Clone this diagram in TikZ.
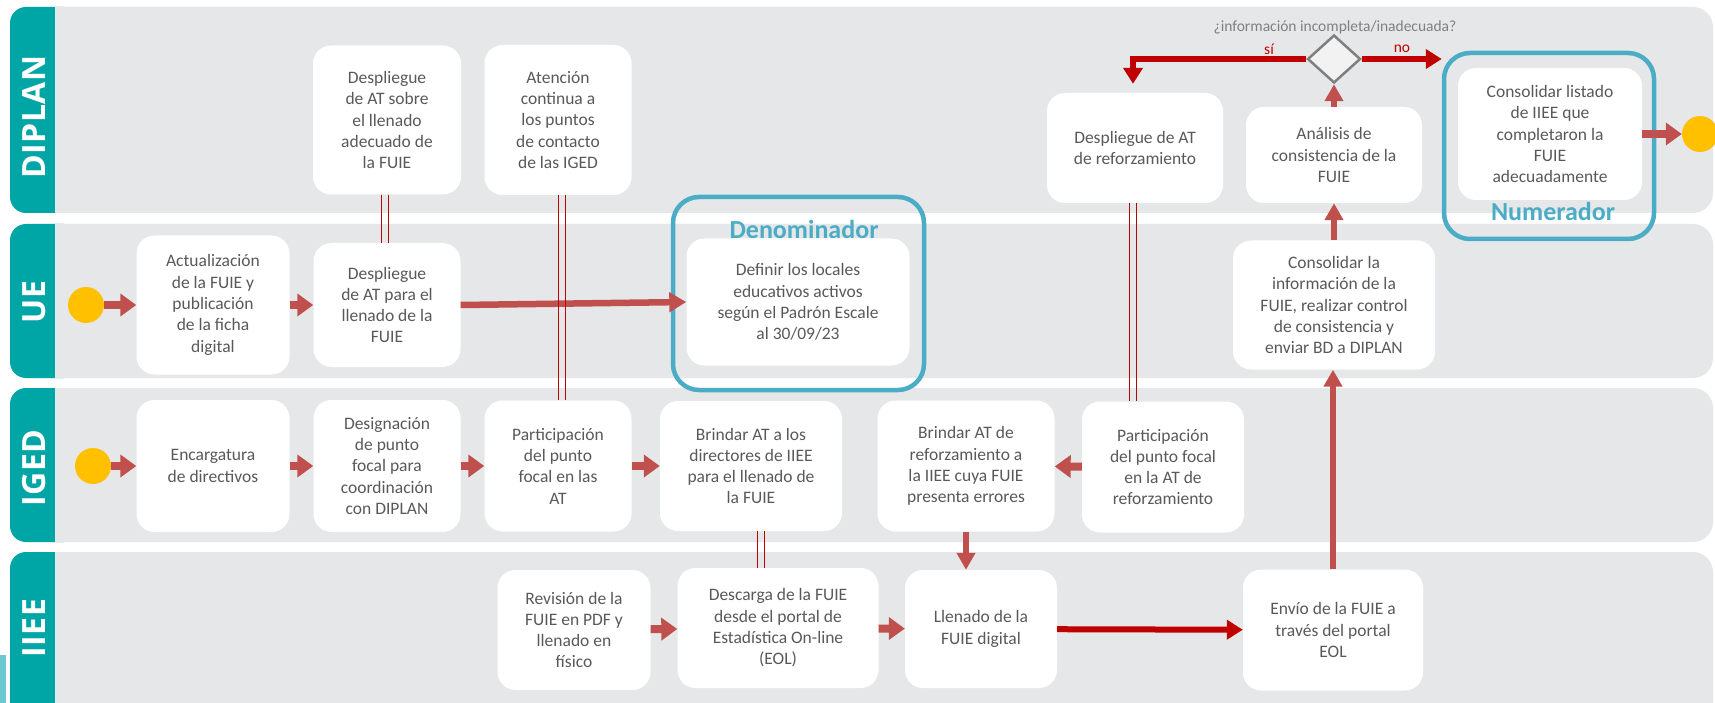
\documentclass[tikz,border=0pt]{standalone}
\usepackage{fontspec}
\setmainfont{Carlito}
\newfontfamily\osans{Open Sans}
\usetikzlibrary{arrows.meta,shapes.geometric,calc}
\definecolor{laneg}{RGB}{230,231,232}
\definecolor{tealc}{RGB}{0,166,166}
\definecolor{txtg}{RGB}{89,89,89}
\definecolor{arrL}{RGB}{192,80,77}
\definecolor{arrD}{RGB}{192,0,0}
\definecolor{blueo}{RGB}{75,172,198}
\definecolor{yel}{RGB}{255,192,0}
\definecolor{diag}{RGB}{127,127,127}
\definecolor{qg}{RGB}{128,128,128}
\definecolor{stripc}{RGB}{110,200,210}
\newcommand\lk{\kern0.5pt}
\newcommand\mklane[5]{%
  \fill[laneg, rounded corners=20pt] (30,#1) rectangle (1713,#2);
  \fill[tealc, rounded corners=16pt] (10,#1) rectangle (80,#2);
  \fill[laneg] (55,#1) rectangle (100,#2);
  \node[lanelab] (#5) at (34,#4) {#3};
}
\newcommand\dbline[3]{%
  \draw[dl] ($(#1.south)+(#3-3.5,0)$) -- ($(#2.north -| #1.south)+(#3-3.5,0)$);
  \draw[dl] ($(#1.south)+(#3+3.5,0)$) -- ($(#2.north -| #1.south)+(#3+3.5,0)$);
}
\begin{document}
\begin{tikzpicture}[x=1pt,y=-1pt,
  box/.style={rectangle, rounded corners=18pt, fill=white, align=center, text=txtg,
    font=\fontsize{17.5}{21.3}\selectfont, inner sep=0pt},
  lanelab/.style={rotate=90, text=white, font=\osans\bfseries\fontsize{32}{34}\selectfont},
  blueb/.style={rectangle, rounded corners=26pt, draw=blueo, line width=4.5pt, inner sep=0pt},
  bluelab/.style={text=blueo, font=\bfseries\fontsize{26}{30}\selectfont},
  dot/.style={circle, fill=yel, minimum size=36pt, inner sep=0pt},
  la/.style={draw=arrL, line width=8pt, -{Triangle[width=22pt,length=16pt]}},
  lt/.style={draw=arrL, line width=6.5pt, -{Triangle[width=19pt,length=17pt]}},
  lv/.style={draw=arrL, line width=6pt, -{Triangle[width=18pt,length=17pt]}},
  dk/.style={draw=arrD, line width=6pt, -{Triangle[width=19pt,length=16pt]}},
  dl/.style={draw=arrD, line width=1.5pt},
  lbl/.style={font=\fontsize{15.5}{18}\selectfont, inner sep=0pt}
]
\clip (0,0) rectangle (1715,703);
\fill[white] (0,0) rectangle (1715,703);
% lanes
\mklane{7}{213}{D\lk I\lk P\lk L\lk A\lk N}{117}{lDIPLAN}
\mklane{224}{378}{U\lk E}{302}{lUE}
\mklane{388}{542}{I\lk G\lk E\lk D}{468}{lIGED}
\mklane{552}{730}{I\lk I\lk E\lk E}{628}{lIIEE}
\fill[stripc] (0,655) rectangle (6,703);

% DIPLAN nodes
\node[box, minimum width=148pt, minimum height=149pt] (desSobre) at (387,120)
  {Despliegue\\de AT sobre\\el llenado\\adecuado de\\la FUIE};
\node[box, minimum width=147pt, minimum height=150pt] (aten) at (558,120)
  {Atención\\continua a\\los puntos\\de contacto\\de las IGED};
\node[box, minimum width=176pt, minimum height=110pt] (desRef) at (1135,148)
  {Despliegue de AT\\de reforzamiento};
\node[box, minimum width=176pt, minimum height=96pt] (anal) at (1334,155)
  {Análisis de\\consistencia de la\\FUIE};
\node[diamond, draw=diag, fill=white!95!black, line width=2.5pt, minimum width=53pt,
  minimum height=48pt, inner sep=0pt] (dia) at (1334,59) {};
\node[lbl, text=qg] (q) at (1335,27) {¿información incompleta/inadecuada?};
\node[lbl, text=arrD] (si) at (1269,49) {sí};
\node[lbl, text=arrD] (no) at (1402,49) {no};
\node[blueb, minimum width=210pt, minimum height=186pt] (numBlue) at (1549,146) {};
\node[box, minimum width=184pt, minimum height=132pt] (numInner) at (1550,134)
  {Consolidar listado\\de IIEE que\\completaron la\\FUIE\\adecuadamente};
\node[bluelab] (numLab) at (1553,211) {Numerador};
\node[dot] (endC) at (1700,134) {};

% UE nodes
\node[dot] (ueC) at (86,305) {};
\node[box, minimum width=153pt, minimum height=139pt] (act) at (213,305)
  {Actualización\\de la FUIE y\\publicación\\de la ficha\\digital};
\node[box, minimum width=147pt, minimum height=124pt] (despPara) at (387,305)
  {Despliegue\\de AT para el\\llenado de la\\FUIE};
\node[blueb, minimum width=251pt, minimum height=193pt] (denBlue) at (798.5,293.5) {};
\node[bluelab] (denLab) at (804,229) {Denominador};
\node[box, minimum width=223pt, minimum height=127pt] (denInner) at (798,302)
  {Definir los locales\\educativos activos\\según el Padrón Escale\\al 30/09/23};
\node[box, minimum width=202pt, minimum height=129pt] (cons) at (1334,305)
  {Consolidar la\\información de la\\FUIE, realizar control\\de consistencia y\\enviar BD a DIPLAN};

% IGED nodes
\node[dot] (igC) at (93,466) {};
\node[box, minimum width=153pt, minimum height=132pt] (enc) at (213,466)
  {Encargatura\\de directivos};
\node[box, minimum width=147pt, minimum height=132pt] (desig) at (387,466)
  {Designación\\de punto\\focal para\\coordinación\\con DIPLAN};
\node[box, minimum width=147pt, minimum height=131pt] (part1) at (558,466)
  {Participación\\del punto\\focal en las\\AT};
\node[box, minimum width=182pt, minimum height=130pt] (brin1) at (751,466)
  {Brindar AT a los\\directores de IIEE\\para el llenado de\\la FUIE};
\node[box, minimum width=177pt, minimum height=131pt] (brin2) at (966,466)
  {Brindar AT de\\reforzamiento a\\la IIEE cuya FUIE\\presenta errores};
\node[box, minimum width=162pt, minimum height=131pt] (part2) at (1163,467)
  {Participación\\del punto focal\\en la AT de\\reforzamiento};

% IIEE nodes
\node[box, minimum width=153pt, minimum height=120pt] (rev) at (574,630)
  {Revisión de la\\FUIE en PDF y\\llenado en\\físico};
\node[box, minimum width=201pt, minimum height=120pt] (desc) at (778,628)
  {Descarga de la FUIE\\desde el portal de\\Estadística On-line\\(EOL)};
\node[box, minimum width=152pt, minimum height=118pt] (llen) at (981,629)
  {Llenado de la\\FUIE digital};
\node[box, minimum width=180pt, minimum height=121pt] (env) at (1333,630)
  {Envío de la FUIE a\\través del portal\\EOL};

% connectors
\draw[la] (ueC) -- (act);
\draw[la] (act) -- (despPara);
\draw[lt] (despPara.east) -- (denInner.west);
\draw[la] (igC) -- (enc);
\draw[la] (enc) -- (desig);
\draw[la] (desig) -- (part1);
\draw[la] (part1) -- (brin1);
\draw[la] (part2) -- (brin2);
\draw[lv] (brin2.south) -- (brin2.south |- llen.north);
\draw[la] (rev) -- (desc);
\draw[la] (desc) -- (llen);
\draw[dk] (llen) -- (env);
\draw[lv] (env.north) -- (env.north |- cons.south);
\draw[lv] (cons.north) -- (anal.south);
\draw[lv] (anal.north) -- (dia.south);
\draw[dk] (dia.west) -| ([xshift=-2pt,yshift=9pt]desRef.north);
\draw[dk] (dia.east) -- (dia.east -| numBlue.west);
\draw[la] (numInner.east) -- (endC);
\dbline{desSobre}{despPara}{-2}
\dbline{aten}{part1}{4}
\dbline{desRef}{part2}{-2}
\dbline{brin1}{desc}{10}
\end{tikzpicture}
\end{document}
